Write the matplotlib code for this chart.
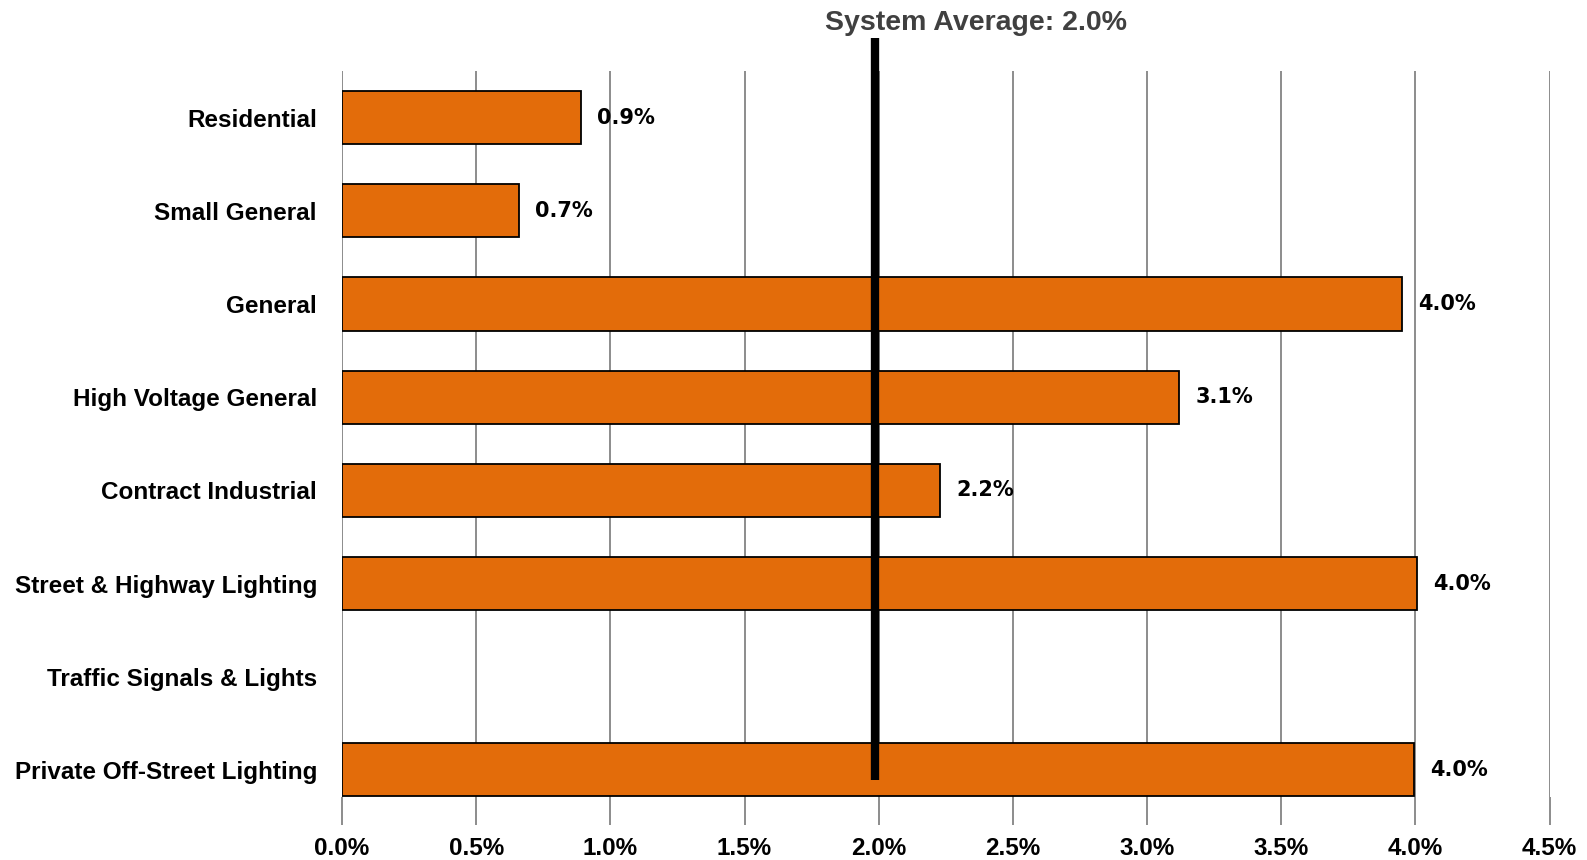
import matplotlib
matplotlib.use("Agg")
import numpy as np
from matplotlib import pyplot as plt
from matplotlib.ticker import FuncFormatter, MultipleLocator
import matplotlib.transforms as mtransforms

classes = ['Residential', 'Small General', 'General', 'High Voltage General',
           'Contract Industrial', 'Street & Highway Lighting',
           'Traffic Signals & Lights', 'Private Off-Street Lighting']
increase = [0.89, 0.66, 3.95, 3.12, 2.23, 4.005, 0.0, 3.995]
shown = ['0.9%', '0.7%', '4.0%', '3.1%', '2.2%', '4.0%', '', '4.0%']
system_avg = 1.985
avg_text = 'System Average: 2.0%'

label_font = ['Liberation Sans', 'DejaVu Sans']
orange = '#E36C0A'

fig = plt.figure(figsize=(15.87, 8.6), dpi=100)
ax = fig.add_axes([0.2155, 0.0733, 0.7609, 0.8441])

ypos = np.arange(len(classes))
edges = ['black' if v > 0 else 'none' for v in increase]
bars = ax.barh(ypos, increase, height=0.57, color=orange,
               edgecolor=edges, linewidth=1.3, zorder=3)

for b, txt in zip(bars, shown):
    if not txt:
        continue
    ax.annotate(txt, (b.get_width(), b.get_y() + b.get_height() / 2),
                xytext=(11.5, 0), textcoords='offset points',
                ha='left', va='center', fontsize=15, fontweight='bold',
                family='DejaVu Sans', color='black')

# system average marker drawn above the bars and past the top of the plot
trans = mtransforms.blended_transform_factory(ax.transData, ax.transAxes)
ax.plot([system_avg, system_avg], [0.024, 1.046], transform=trans,
        color='black', linewidth=6, solid_capstyle='butt', zorder=5,
        clip_on=False)
ax.annotate(avg_text, (system_avg, 1.066), xycoords=trans,
            xytext=(-36, 0), textcoords='offset points',
            ha='left', va='center', fontsize=20.5, fontweight='bold',
            family=label_font, color='#404040', annotation_clip=False)

ax.set_xlim(0, 4.5)
ax.set_ylim(7.29, -0.5)
ax.xaxis.set_major_locator(MultipleLocator(0.5))
ax.xaxis.set_major_formatter(FuncFormatter(lambda v, p: '%.1f%%' % v))
ax.set_yticks(ypos)
ax.set_yticklabels(classes)

ax.grid(axis='x', color='#8c8c8c', linewidth=1.4, zorder=0)
ax.set_axisbelow(True)
for s in ['top', 'right', 'left', 'bottom']:
    ax.spines[s].set_visible(False)

ax.tick_params(axis='x', length=20, width=1.4, color='#8c8c8c', pad=9)
ax.tick_params(axis='y', length=0, pad=18)
for t in ax.get_xticklabels():
    t.set_fontsize(17.5)
    t.set_fontweight('bold')
    t.set_family(label_font)
for t in ax.get_yticklabels():
    t.set_fontsize(17.5)
    t.set_fontweight('bold')
    t.set_family(label_font)

fig.savefig('out.png', dpi=100)
